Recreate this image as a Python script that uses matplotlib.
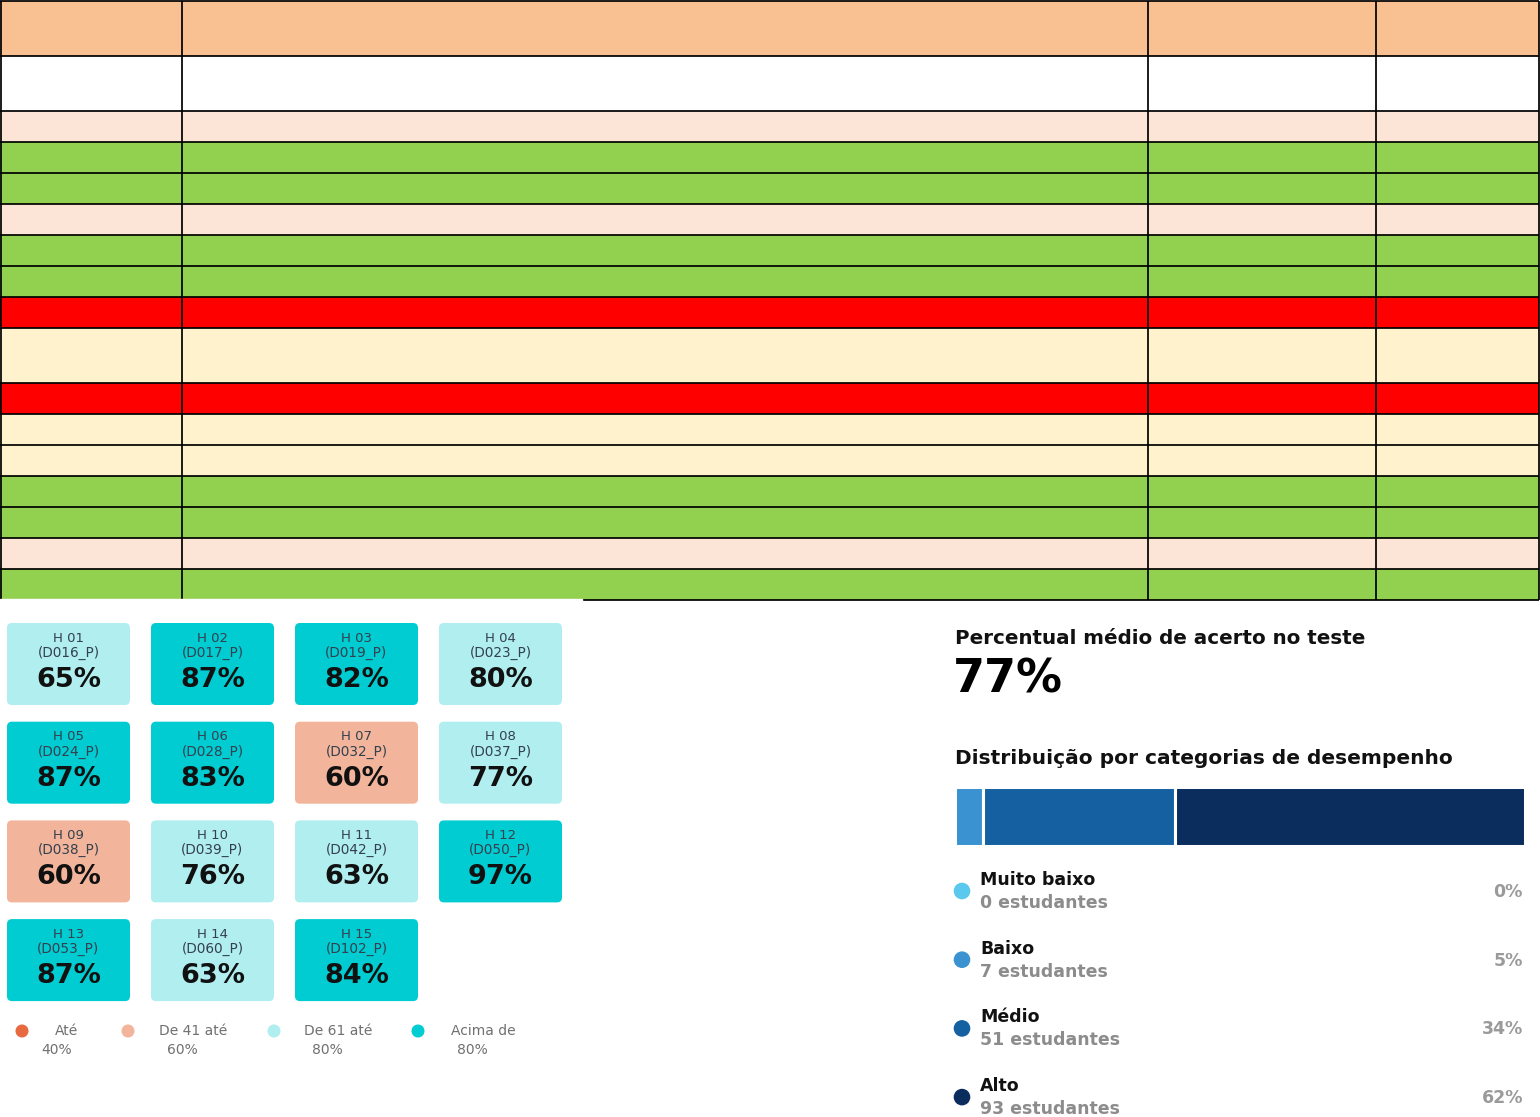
import numpy as np
import matplotlib.pyplot as plt
from matplotlib.patches import FancyBboxPatch, Rectangle

# ------------------------------------------------
# DATOS
# ------------------------------------------------
# tabla superior: tipo de fila y número de líneas de texto (sin texto visible)
row_kinds = ['header', 'white', 'pink', 'green', 'green', 'pink', 'green', 'green',
             'red', 'cream', 'red', 'cream', 'cream', 'green', 'green', 'pink', 'green']
row_lines = [2, 2, 1, 1, 1, 1, 1, 1, 1, 2, 1, 1, 1, 1, 1, 1, 1]
col_widths = [182, 966, 228, 163]
kind_colors = {'header': '#F9C091', 'white': '#FFFFFF', 'pink': '#FCE4D6',
               'green': '#92D050', 'red': '#FF0000', 'cream': '#FFF2CC'}

# habilidades
hab_codes = ['D016_P', 'D017_P', 'D019_P', 'D023_P', 'D024_P', 'D028_P', 'D032_P', 'D037_P',
             'D038_P', 'D039_P', 'D042_P', 'D050_P', 'D053_P', 'D060_P', 'D102_P']
hab_values = [65, 87, 82, 80, 87, 83, 60, 77, 60, 76, 63, 97, 87, 63, 84]

legend_l1 = ['Até', 'De 41 até', 'De 61 até', 'Acima de']
legend_l2 = ['40%', '60%', '80%', '80%']
legend_colors = ['#E8693F', '#F2B59B', '#B0EEF0', '#00CCD1']

# resumen
media_teste = 77
categorias = ['Muito baixo', 'Baixo', 'Médio', 'Alto']
estudantes = [0, 7, 51, 93]
percentuais = [0, 5, 34, 62]
cat_colors = ['#5BC8EE', '#3A93D0', '#1460A0', '#0A2D5E']


def tile_color(v):
    if v <= 40:
        return legend_colors[0]
    if v <= 60:
        return legend_colors[1]
    if v <= 80:
        return legend_colors[2]
    return legend_colors[3]


# ------------------------------------------------
# FIGURA
# ------------------------------------------------
W, H = 1540, 1117
fig = plt.figure(figsize=(W / 100, H / 100), dpi=100)
ax = fig.add_axes([0, 0, 1, 1])
ax.set_xlim(0, W)
ax.set_ylim(H, 0)
ax.axis('off')

# ------------------------------------------------
# TABLA
# ------------------------------------------------
heights = np.array([55 if n == 2 else 31 for n in row_lines])
tops = np.concatenate([[1], 1 + np.cumsum(heights)[:-1]])
table_w = sum(col_widths)
ax.barh(tops + heights / 2, table_w, height=heights, left=0,
        color=[kind_colors[k] for k in row_kinds], zorder=1)
bottom = tops[-1] + heights[-1]
ax.hlines(tops, 0, table_w, color='black', lw=1.25, zorder=2)
ax.hlines(bottom, 0, table_w, color='black', lw=1.25, zorder=2)
col_x = np.concatenate([[0.8], np.cumsum(col_widths)])
ax.vlines(col_x, 1, bottom, color='black', lw=1.25, zorder=2)

# panel blanco de las habilidades (tapa el borde inferior izquierdo)
ax.add_patch(Rectangle((0, bottom - 0.6), 582, H - bottom + 1, color='white', zorder=3))

# ------------------------------------------------
# TARJETAS DE HABILIDADES
# ------------------------------------------------
tw, th = 123, 82
for i, (code, v) in enumerate(zip(hab_codes, hab_values)):
    c, r = i % 4, i // 4
    x0 = 7 + c * 144
    y0 = 623 + r * 98.7
    ax.add_patch(FancyBboxPatch((x0, y0), tw, th, boxstyle='round,pad=0,rounding_size=5',
                                fc=tile_color(v), ec='none', zorder=4))
    cx = x0 + tw / 2
    ax.text(cx, y0 + 15, f'H {i + 1:02d}', ha='center', va='center',
            fontsize=9.5, color='#34404e', zorder=5)
    ax.text(cx, y0 + 30, f'({code})', ha='center', va='center',
            fontsize=9.8, color='#34404e', zorder=5)
    ax.text(cx, y0 + 57, f'{v}%', ha='center', va='center',
            fontsize=19.5, fontweight='bold', color='#111111', zorder=5)

# leyenda de colores
dot_x = [22, 128, 274, 418]
off1 = [45, 65, 64, 65]
off2 = [35, 54, 53, 54]
ax.scatter(dot_x, [1031] * 4, s=70, c=legend_colors, zorder=5)
for x, a, b, t1, t2 in zip(dot_x, off1, off2, legend_l1, legend_l2):
    ax.text(x + a, 1031, t1, ha='center', va='center', fontsize=10, color='#707070', zorder=5)
    ax.text(x + b, 1050, t2, ha='center', va='center', fontsize=10, color='#707070', zorder=5)

# ------------------------------------------------
# RESUMEN
# ------------------------------------------------
ax.text(955, 638, 'Percentual médio de acerto no teste', ha='left', va='center',
        fontsize=14.3, fontweight='bold', color='#111111')
ax.text(953, 680, f'{media_teste}%', ha='left', va='center',
        fontsize=33, fontweight='bold', color='#000000')
ax.text(955, 759, 'Distribuição por categorias de desempenho', ha='left', va='center',
        fontsize=14.5, fontweight='bold', color='#111111')

# barra apilada
bx0, bx1, by0, by1 = 955, 1525, 787, 846
axb = fig.add_axes([bx0 / W, 1 - by1 / H, (bx1 - bx0) / W, (by1 - by0) / H])
lefts = np.concatenate([[0], np.cumsum(percentuais)[:-1]])
axb.barh(0, percentuais, left=lefts, height=1, color=cat_colors,
         edgecolor='white', linewidth=2.2)
axb.set_xlim(0, sum(percentuais))
axb.set_ylim(-0.5, 0.5)
axb.axis('off')

# leyenda de categorias
ys = 880 + np.arange(len(categorias)) * 68.7
ax.scatter([962] * len(categorias), ys + 11, s=120, c=cat_colors, marker='o')
for y, cat, n, p in zip(ys, categorias, estudantes, percentuais):
    ax.text(980, y, cat, ha='left', va='center', fontsize=12.5,
            fontweight='bold', color='#111111')
    ax.text(980, y + 23, f'{n} estudantes', ha='left', va='center', fontsize=12.5,
            fontweight='bold', color='#8c8c8c')
    ax.text(1523, y + 12, f'{p}%', ha='right', va='center', fontsize=12.5,
            fontweight='bold', color='#9a9a9a')

fig.savefig('out.png', dpi=100)
